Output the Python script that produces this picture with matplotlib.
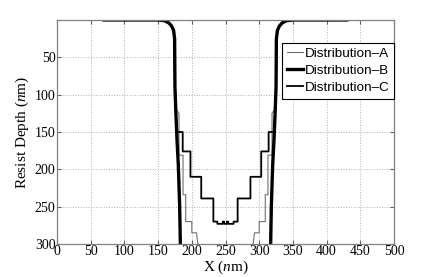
"""
resist depth profiles for three distributions
"""
import numpy as np
import matplotlib
matplotlib.use('Agg')
import matplotlib.pyplot as plt

plt.rcParams['font.family'] = 'Liberation Serif'
plt.rcParams['mathtext.fontset'] = 'custom'
plt.rcParams['mathtext.rm'] = 'Liberation Serif'
plt.rcParams['mathtext.it'] = 'Liberation Serif:italic'

# Distribution-A (thin grey)
xa = [70, 150, 160, 166, 170, 173, 174.5, 175, 177, 181, 181, 187, 187, 191, 191, 200, 200, 207, 209,
      np.nan,
      291, 293, 300, 300, 309, 309, 313, 313, 319, 319, 323, 325, 325.5, 327, 330, 334, 340, 350, 430]
da = [0, 0, 1, 4, 8, 14, 25, 90, 120, 125, 181, 181, 234, 234, 270, 270, 285, 285, 300,
      np.nan,
      300, 285, 285, 270, 270, 234, 234, 181, 181, 125, 120, 90, 25, 14, 8, 4, 1, 0, 0]

# Distribution-B (thick)
xb = [70, 150, 160, 166, 170, 173, 174.5, 175, 176.5, 178, 180, 182, 183,
      np.nan,
      317, 318, 320, 322, 323.5, 325, 325.5, 327, 330, 334, 340, 350, 430]
db = [0, 0, 1, 4, 8, 14, 25, 90, 127, 160, 194, 250, 300,
      np.nan,
      300, 250, 194, 160, 127, 90, 25, 14, 8, 4, 1, 0, 0]

# Distribution-C (medium, stepped)
xc = [70, 150, 160, 166, 170, 173, 174.5, 175, 176.5, 178, 186.5, 186.5, 198, 198, 214, 214, 232, 232,
      238, 238, 246, 246, 248, 248, 252, 252, 254, 254, 262, 262, 268,
      268, 287, 287, 303, 303, 314, 314, 322, 323.5, 325, 325.5, 327, 330, 334, 340, 350, 430]
dc = [0, 0, 1, 4, 8, 14, 25, 90, 127, 150, 150, 176, 176, 210, 210, 239, 239, 270,
      270, 273, 273, 270, 270, 273, 273, 270, 270, 273, 273, 270, 270,
      239, 239, 210, 210, 176, 176, 150, 150, 127, 90, 25, 14, 8, 4, 1, 0, 0]

fig = plt.figure(figsize=(4.36, 2.77), dpi=100)
ax = fig.add_axes([57/436, 1-244/277, (394-57)/436, (244-20)/277])

ax.plot(xa, da, color='#707070', lw=0.8, label='Distribution\u2013A')
ax.plot(xb, db, color='black', lw=2.4, label='Distribution\u2013B')
ax.plot(xc, dc, color='black', lw=1.3, label='Distribution\u2013C')

ax.set_xlim(0, 500)
ax.set_ylim(300, 0)
ax.set_xticks(np.arange(0, 501, 50))
ax.set_yticks(np.arange(50, 301, 50))
ax.grid(True, linestyle=':', color='#b0b0b0', lw=0.7)
ax.tick_params(direction='in', top=True, right=True, labelsize=10, color='#606060', length=3, pad=1)
for s in ax.spines.values():
    s.set_color('#808080')
    s.set_linewidth(0.9)

ax.set_xlabel('X ($n$m)', fontsize=11, labelpad=0)
ax.set_ylabel('Resist Depth ($n$m)', fontsize=11, labelpad=3)

leg = ax.legend(loc='upper right', bbox_to_anchor=(1.0, 1 - 23/224), borderaxespad=0,
                prop={'family': 'Liberation Sans', 'size': 9.7}, fancybox=False,
                handlelength=1.15, handletextpad=0.15, borderpad=0.35, labelspacing=0.33)
leg.get_frame().set_edgecolor('black')
leg.get_frame().set_linewidth(0.8)
leg.get_frame().set_alpha(1)

fig.savefig('out.png', dpi=100)
